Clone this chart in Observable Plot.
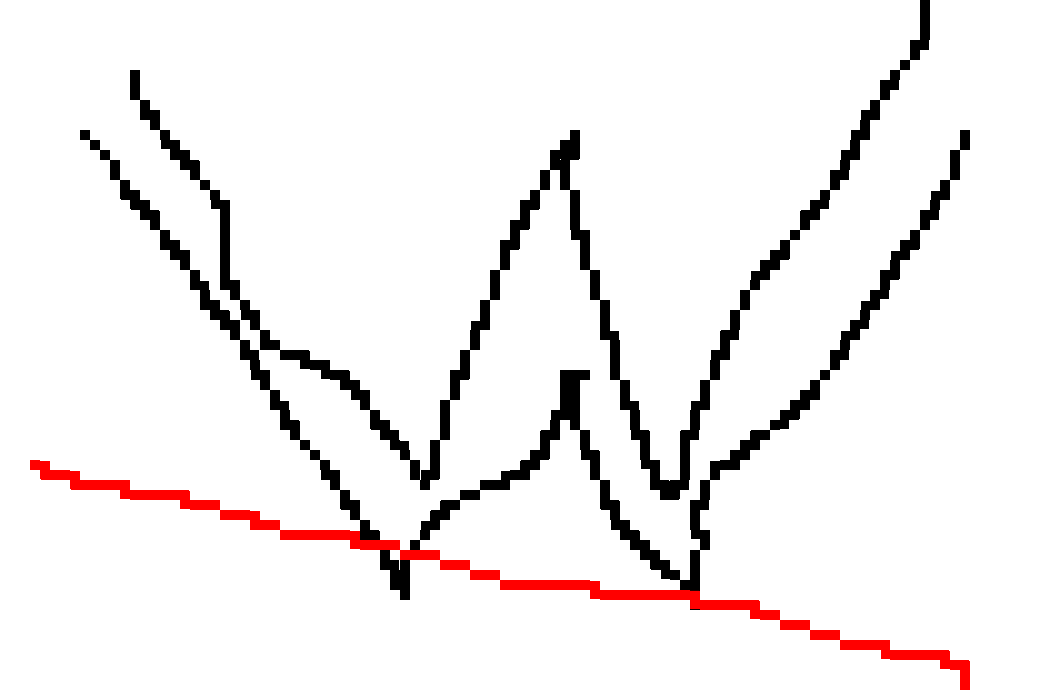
<!DOCTYPE html>
<html>
<head>
<meta charset="utf-8">
<script src="https://cdn.jsdelivr.net/npm/d3@7"></script>
<script src="https://cdn.jsdelivr.net/npm/@observablehq/plot@0.6"></script>
<style>
  html, body { margin: 0; padding: 0; background: #fff; overflow: hidden; }
  #chart svg { display: block; }
</style>
</head>
<body>
<div id="chart"></div>
<script>
// Upper black series
const upperX = [13.5,13.6,17.5,19.5,22.0,22.5,24.5,26.5,29.0,31.5,33.5,35.5,37.5,39.5,40.5,41.4,42.5,43.5,44.5,45.5,46.5,47.5,48.5,49.5,50.5,51.5,53.5,54.5,55.5,57.5,56.6,57.4,58.5,59.5,60.5,61.5,62.5,63.5,64.5,65.5,66.5,67.6,68.4,68.6,69.5,70.5,71.5,72.5,73.5,74.5,75.5,78.5,82.5,84.5,86.5,87.5,89.5,90.3,91.5,92.5,92.5];
const upperY = [62.8,60.4,55.0,52.8,49.7,42.2,39.5,36.0,34.6,33.7,32.6,31.4,28.2,25.7,24.8,23.0,21.3,24.0,28.5,31.7,33.7,36.2,38.7,41.7,44.7,46.7,50.7,51.7,54.2,56.8,52.8,49.0,44.5,41.4,38.5,33.5,30.5,28.0,25.0,22.2,20.6,21.1,22.4,25.7,28.0,31.0,33.5,35.5,38.0,40.5,41.8,45.3,50.5,53.5,57.5,59.5,62.5,63.7,64.6,67.0,73.0];

// Lower black series
const lowerX = [8.2,9.5,10.5,11.5,12.5,14.0,15.5,16.5,18.0,19.5,20.5,21.5,23.0,24.4,25.5,26.5,27.5,28.5,29.5,31.0,32.5,33.5,34.5,35.7,36.5,37.5,38.5,39.5,40.4,40.5,41.5,45.0,47.0,50.0,52.0,53.5,54.5,55.5,56.5,56.5,58.3,57.5,57.5,58.4,59.5,60.5,61.5,62.5,64.0,66.0,67.5,68.8,69.5,69.5,70.3,69.5,70.4,71.5,73.0,75.0,77.0,79.5,81.5,82.5,83.5,84.5,85.5,86.5,87.5,88.5,89.5,91.0,92.5,93.5,94.5,95.5,96.5];
const lowerY = [56.6,55.7,54.5,53.0,51.2,49.7,47.7,46.0,44.5,42.2,40.2,38.8,37.5,35.5,33.3,32.0,30.2,28.2,26.7,25.0,23.3,22.0,20.2,18.8,17.0,15.7,14.2,12.5,10.3,13.5,15.7,19.5,20.8,21.7,22.7,23.7,25.7,27.5,29.5,32.5,32.6,31.4,27.7,26.0,23.2,20.5,18.4,16.8,15.4,13.7,12.3,11.7,9.4,14.5,15.8,18.0,21.5,23.0,23.7,25.7,27.0,29.2,31.2,32.7,33.8,35.7,37.0,38.7,40.0,41.7,43.7,45.7,47.8,49.7,51.0,53.5,56.8];

// Red series
const redX = [3.0,4.5,7.5,13.0,19.0,22.0,25.5,28.0,36.0,40.0,44.0,47.0,50.0,60.0,70.0,76.0,78.0,81.0,84.0,89.0,95.0,96.3,96.5];
const redY = [23.6,23.0,22.0,21.0,20.0,19.0,18.0,17.0,16.0,15.0,14.0,13.0,12.0,11.0,10.0,9.0,8.0,7.0,6.0,5.0,4.0,3.1,1.0];

const toRows = (xs, ys) => xs.map((x, i) => ({x, y: ys[i]}));
const upper = toRows(upperX, upperY);
const lower = toRows(lowerX, lowerY);
const red = toRows(redX, redY);

const svg = Plot.plot({
  width: 1050,
  height: 700,
  margin: 0,
  x: {domain: [0, 105], axis: null},
  y: {domain: [0, 70], axis: null},
  style: {background: "#ffffff"},
  marks: [
    Plot.line(upper, {x: "x", y: "y", stroke: "#000000", strokeWidth: 10, strokeLinejoin: "round", strokeLinecap: "butt"}),
    Plot.line(lower, {x: "x", y: "y", stroke: "#000000", strokeWidth: 10, strokeLinejoin: "round", strokeLinecap: "butt"}),
    Plot.line(red, {x: "x", y: "y", stroke: "#ff0000", strokeWidth: 10, strokeLinejoin: "round", strokeLinecap: "butt"})
  ]
});

// Pixelated (10px block) rendering of the marks, as in the reference
const ns = "http://www.w3.org/2000/svg";
const defs = document.createElementNS(ns, "defs");
defs.innerHTML = `
<filter id="pix" filterUnits="userSpaceOnUse" primitiveUnits="userSpaceOnUse" x="0" y="0" width="1050" height="700" color-interpolation-filters="sRGB">
  <feFlood x="4" y="4" width="2" height="2" flood-color="#000" flood-opacity="1"/>
  <feComposite x="0" y="0" width="10" height="10"/>
  <feTile result="grid"/>
  <feComposite in="SourceGraphic" in2="grid" operator="in"/>
  <feMorphology operator="dilate" radius="4"/>
  <feComponentTransfer><feFuncA type="discrete" tableValues="0 1"/></feComponentTransfer>
</filter>`;
const wrap = document.createElementNS(ns, "g");
wrap.setAttribute("filter", "url(#pix)");
Array.from(svg.childNodes).forEach(n => {
  if (n.nodeName.toLowerCase() !== "style") wrap.appendChild(n);
});
svg.appendChild(defs);
svg.appendChild(wrap);

document.getElementById("chart").appendChild(svg);
</script>
</body>
</html>
